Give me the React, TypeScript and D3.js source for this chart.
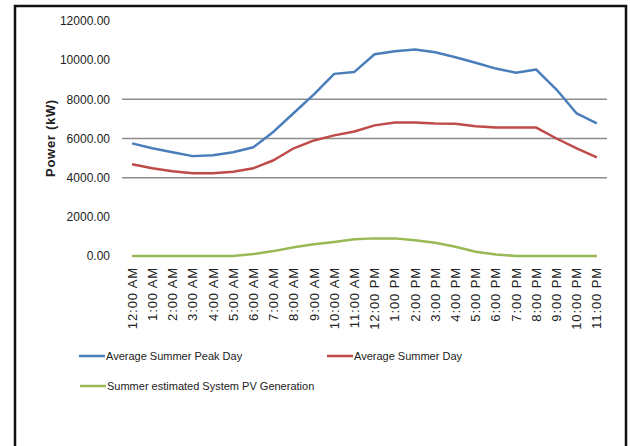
import React from 'react';
import * as d3 from 'd3';

const hours = [
  '12:00 AM', '1:00 AM', '2:00 AM', '3:00 AM', '4:00 AM', '5:00 AM',
  '6:00 AM', '7:00 AM', '8:00 AM', '9:00 AM', '10:00 AM', '11:00 AM',
  '12:00 PM', '1:00 PM', '2:00 PM', '3:00 PM', '4:00 PM', '5:00 PM',
  '6:00 PM', '7:00 PM', '8:00 PM', '9:00 PM', '10:00 PM', '11:00 PM',
];

const peakDay = [
  5750, 5500, 5300, 5100, 5150, 5300, 5550, 6350, 7300, 8250, 9300, 9400,
  10300, 10450, 10550, 10400, 10150, 9870, 9570, 9360, 9520, 8500, 7280, 6770,
];

const averageDay = [
  4680, 4480, 4330, 4220, 4220, 4300, 4480, 4890, 5500, 5900, 6160, 6360,
  6670, 6820, 6820, 6770, 6750, 6620, 6560, 6560, 6560, 6000, 5500, 5040,
];

const pvGeneration = [
  0, 0, 0, 0, 0, 0, 100, 250, 450, 600, 720, 850,
  900, 900, 800, 680, 470, 220, 80, 0, 0, 0, 0, 0,
];

const yTicks = [0, 2000, 4000, 6000, 8000, 10000, 12000];
const gridTicks = [4000, 6000, 8000];

const series = [
  { name: 'Average Summer Peak Day', values: peakDay, color: '#4a7ebb' },
  { name: 'Average Summer Day', values: averageDay, color: '#be4b48' },
  { name: 'Summer estimated System PV Generation', values: pvGeneration, color: '#98b954' },
];

const font = '"Liberation Sans", Arial, sans-serif';

export default function App() {
  const width = 630;
  const height = 446;

  const x = d3.scalePoint<string>().domain(hours).range([122, 607]).padding(0.5);
  const y = d3.scaleLinear().domain([0, 12000]).range([256, 21]);

  const line = (vals: number[]) =>
    d3.line<number>()
      .x((_, i) => x(hours[i]) as number)
      .y(d => y(d))(vals) as string;

  // legend placement: two in first row, one in second
  const legendPos = [
    { x: 79, y: 356 },
    { x: 327, y: 356 },
    { x: 80, y: 386 },
  ];

  return (
    <svg width={width} height={height} style={{ position: 'absolute', left: 0, top: 0 }}>
      <rect x={0} y={0} width={width} height={height} fill="white" />
      <rect x={15} y={6} width={611} height={460} fill="none" stroke="#111" strokeWidth={2.5} />

      {gridTicks.map(t => (
        <line key={t} x1={122} x2={607} y1={y(t)} y2={y(t)} stroke="#8c8c8c" strokeWidth={1.5} />
      ))}

      {yTicks.map(t => (
        <text key={t} x={110} y={y(t)} dy="0.35em" textAnchor="end"
          fontFamily={font} fontSize={12} fill="#222">
          {t.toFixed(2)}
        </text>
      ))}

      <text transform="translate(50,138) rotate(-90)" textAnchor="middle" dy="0.35em"
        fontFamily={font} fontSize={13} fontWeight="bold" letterSpacing={0.7} fill="#222">
        Power (kW)
      </text>

      {hours.map(h => (
        <text key={h} transform={`translate(${x(h)},267) rotate(-90)`} textAnchor="end"
          dy="0.35em" fontFamily={font} fontSize={13} letterSpacing={0.9} fill="#222">
          {h}
        </text>
      ))}

      {series.map(s => (
        <path key={s.name} d={line(s.values)} fill="none" stroke={s.color}
          strokeWidth={2.5} strokeLinejoin="round" />
      ))}

      {series.map((s, i) => (
        <g key={s.name} transform={`translate(${legendPos[i].x},${legendPos[i].y})`}>
          <line x1={0} x2={26} y1={0} y2={0} stroke={s.color} strokeWidth={2.5} />
          <text x={27} y={0} dy="0.35em" fontFamily={font} fontSize={11} fill="#222">
            {s.name}
          </text>
        </g>
      ))}
    </svg>
  );
}
